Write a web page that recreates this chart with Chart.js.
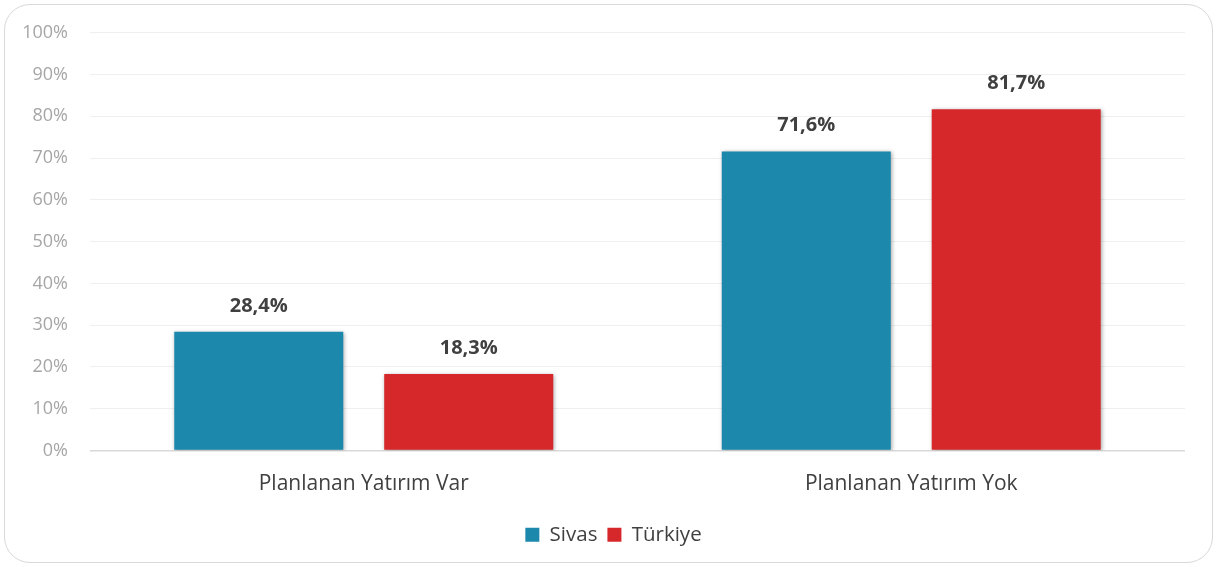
<!DOCTYPE html>
<html>
<head>
<meta charset="utf-8">
<script src="https://cdn.jsdelivr.net/npm/chart.js@4/dist/chart.umd.min.js"></script>
<style>
    html, body { margin: 0; padding: 0; background: #fff; }
    .frame {
        position: absolute; left: 4px; top: 4px; width: 1207px; height: 557px;
        border: 1.5px solid #d9d9d9; border-radius: 26px;
    }
    .wrap { position: absolute; left: 0; top: 0; width: 1218px; height: 567px; }
</style>
</head>
<body>
<div class="frame"></div>
<div class="wrap"><canvas id="chart"></canvas></div>
<script>
// Data
const categories = ['Planlanan Yatırım Var', 'Planlanan Yatırım Yok'];
const sivasValues = [28.4, 71.6];
const turkiyeValues = [18.3, 81.7];
const seriesNames = ['Sivas', 'Türkiye'];
const yTicks = [0, 10, 20, 30, 40, 50, 60, 70, 80, 90, 100];

const FONT = "'Open Sans', sans-serif";

// bar shadow
const shadowPlugin = {
    id: 'barShadow',
    beforeDatasetDraw(chart) {
        const ctx = chart.ctx;
        ctx.save();
        ctx.shadowColor = 'rgba(0,0,0,0.35)';
        ctx.shadowBlur = 4;
        ctx.shadowOffsetX = 1;
        ctx.shadowOffsetY = 1;
    },
    afterDatasetDraw(chart) {
        chart.ctx.restore();
    }
};

// value labels above bars
const valueLabels = {
    id: 'valueLabels',
    afterDatasetsDraw(chart) {
        const ctx = chart.ctx;
        ctx.save();
        ctx.font = `bold 20px ${FONT}`;
        ctx.fillStyle = '#404040';
        ctx.textAlign = 'center';
        ctx.textBaseline = 'middle';
        chart.data.datasets.forEach((ds, i) => {
            chart.getDatasetMeta(i).data.forEach((bar, j) => {
                const txt = ds.data[j].toFixed(1).replace('.', ',') + '%';
                ctx.fillText(txt, bar.x, bar.y - 26);
            });
        });
        ctx.restore();
    }
};

// legend sits a bit right of the canvas centre in the original
const legendShift = {
    id: 'legendShift',
    afterLayout(chart) {
        chart.legend.left += 21;
        chart.legend.right += 21;
    }
};

new Chart(document.getElementById('chart'), {
    type: 'bar',
    data: {
        labels: categories,
        datasets: [
            { label: seriesNames[0], data: sivasValues, backgroundColor: '#1c88ab' },
            { label: seriesNames[1], data: turkiyeValues, backgroundColor: '#d6282b' }
        ]
    },
    options: {
        responsive: true,
        maintainAspectRatio: false,
        animation: false,
        categoryPercentage: 0.767,
        barPercentage: 0.805,
        layout: { padding: { top: 32, right: 33, left: 0, bottom: 12 } },
        scales: {
            y: {
                min: 0, max: 100,
                afterBuildTicks: (s) => { s.ticks = yTicks.map(v => ({ value: v })); },
                afterFit: (s) => { s.width = 90; },
                border: { display: false },
                grid: {
                    drawTicks: false,
                    color: (c) => c.tick && c.tick.value === 0 ? '#d9d9d9' : '#efefef',
                    lineWidth: (c) => c.tick && c.tick.value === 0 ? 1.5 : 1
                },
                ticks: {
                    padding: 22,
                    color: '#a6a6a6',
                    font: { family: FONT, size: 18 },
                    callback: v => v + '%'
                }
            },
            x: {
                border: { display: false },
                grid: { display: false },
                afterFit: (s) => { s.height = 64; },
                ticks: {
                    padding: 13,
                    color: '#404040',
                    font: { family: FONT, size: 21 }
                }
            }
        },
        plugins: {
            legend: {
                position: 'bottom',
                labels: {
                    boxWidth: 14, boxHeight: 14,
                    padding: 10,
                    color: '#404040',
                    font: { family: FONT, size: 20.5 }
                }
            },
            tooltip: { enabled: false }
        }
    },
    plugins: [shadowPlugin, valueLabels, legendShift]
});
</script>
</body>
</html>
